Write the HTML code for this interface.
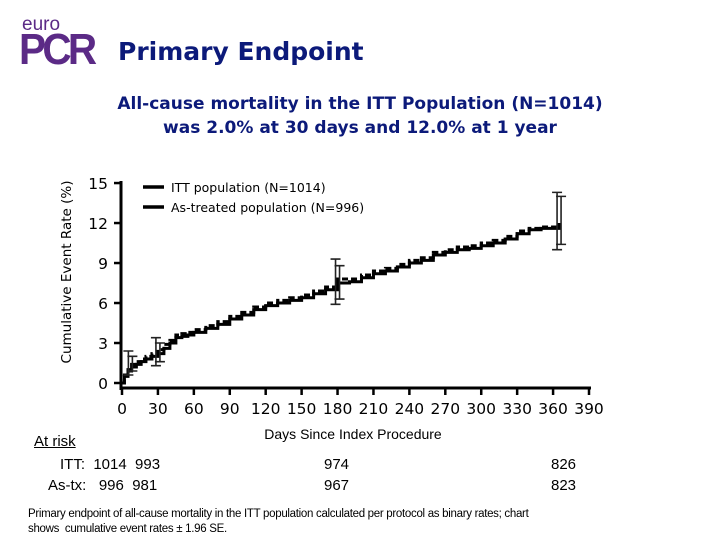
<!DOCTYPE html>
<html><head><meta charset="utf-8">
<style>
body{margin:0;background:#fff;width:720px;height:540px;overflow:hidden;position:relative;font-family:"DejaVu Sans","Liberation Sans",sans-serif;}
.t{position:absolute;white-space:nowrap;}
</style></head>
<body>
<div class="t" style="left:22px;top:14px;font-size:19px;color:#5b2a86;font-family:'Liberation Sans',sans-serif;">euro</div>
<div class="t" style="left:19px;top:25px;font-size:44px;font-weight:bold;color:#5b2a86;letter-spacing:-4px;transform:scaleX(0.92);transform-origin:left;font-family:'Liberation Sans',sans-serif;">PCR</div>
<div class="t" style="left:118px;top:37px;font-size:25px;font-weight:bold;color:#0c1a7a;">Primary Endpoint</div>
<div class="t" style="left:0;width:720px;text-align:center;top:92px;font-size:17px;font-weight:bold;color:#0c1a7a;line-height:24px;">All-cause mortality in the ITT Population (N=1014)<br>was 2.0% at 30 days and 12.0% at 1 year</div>
<svg width="720" height="540" style="position:absolute;left:0;top:0" id="chart"></svg>
<div class="t" style="left:34px;top:433px;font-size:15px;color:#000;text-decoration:underline;font-family:'Liberation Sans',sans-serif;">At risk</div>
<div class="t" style="left:60px;top:456px;font-size:15px;font-family:'Liberation Sans',sans-serif;">ITT:&nbsp; 1014&nbsp; 993</div>
<div class="t" style="left:48px;top:477px;font-size:15px;font-family:'Liberation Sans',sans-serif;">As-tx:&nbsp;&nbsp; 996&nbsp; 981</div>
<div class="t" style="left:324px;top:456px;font-size:15px;font-family:'Liberation Sans',sans-serif;">974</div>
<div class="t" style="left:324px;top:477px;font-size:15px;font-family:'Liberation Sans',sans-serif;">967</div>
<div class="t" style="left:551px;top:456px;font-size:15px;font-family:'Liberation Sans',sans-serif;">826</div>
<div class="t" style="left:551px;top:477px;font-size:15px;font-family:'Liberation Sans',sans-serif;">823</div>
<div class="t" style="left:28px;top:507px;font-size:11.5px;line-height:15px;font-family:'Liberation Sans',sans-serif;letter-spacing:-0.3px;">Primary endpoint of all-cause mortality in the ITT population calculated per protocol as binary rates; chart<br>shows&nbsp; cumulative event rates ± 1.96 SE.</div>
<script>
const xTicks=[0,30,60,90,120,150,180,210,240,270,300,330,360,390];
const yTicks=[0,3,6,9,12,15];
const days=[0,2,5,8,12,16,20,25,30,35,40,45,50,55,60,70,80,90,100,110,120,130,140,150,160,170,180,190,200,210,220,230,240,250,260,270,280,290,300,310,320,330,340,350,365];
const itt=[0,0.5,0.9,1.2,1.4,1.6,1.8,2.0,2.2,2.6,3.0,3.4,3.5,3.6,3.8,4.1,4.4,4.8,5.1,5.5,5.8,6.0,6.2,6.4,6.7,7.0,7.5,7.6,7.9,8.2,8.4,8.7,9.0,9.2,9.6,9.8,10.0,10.1,10.3,10.5,10.8,11.2,11.5,11.6,11.8];
const astx=[0,0.6,1.0,1.4,1.6,1.8,2.0,2.2,2.5,2.9,3.2,3.6,3.7,3.8,4.0,4.3,4.6,5.0,5.3,5.7,6.0,6.2,6.4,6.6,6.9,7.2,7.8,7.8,8.1,8.4,8.6,8.9,9.2,9.4,9.8,10.0,10.2,10.3,10.5,10.7,11.0,11.4,11.6,11.7,12.0];
const ebDays=[7,30,180,365];
const ebLo=[0.6,1.3,5.9,10.0];
const ebHi=[2.4,3.4,9.3,14.3];
const ebLo2=[0.9,1.6,6.3,10.4];
const ebHi2=[2.0,3.0,8.8,14.0];
const sx=d=>122+d*(467/390);
const sy=v=>383-v*13.33;
const svg=document.getElementById('chart');
const NS='http://www.w3.org/2000/svg';
function mk(tag,attrs){const e=document.createElementNS(NS,tag);for(const k in attrs)e.setAttribute(k,attrs[k]);svg.appendChild(e);return e;}
let e=mk('line',{x1:121,y1:181,x2:121,y2:390,stroke:'#000','stroke-width':3});


e=mk('line',{x1:120,y1:388,x2:591,y2:388,stroke:'#000','stroke-width':3});


xTicks.forEach(t=>{
  let l=mk('line',{x1:sx(t),y1:388,x2:sx(t),y2:395,stroke:'#000','stroke-width':2.5});
  
  
  let tx=mk('text',{x:sx(t),y:414,'text-anchor':'middle','font-size':15.5,'font-family':'DejaVu Sans,sans-serif'});
  tx.textContent=t;
  
  
});
yTicks.forEach(t=>{
  let l=mk('line',{x1:114,y1:sy(t),x2:121,y2:sy(t),stroke:'#000','stroke-width':2.5});
  
  
  let tx=mk('text',{x:108,y:sy(t)+6,'text-anchor':'end','font-size':15.5,'font-family':'DejaVu Sans,sans-serif'});
  tx.textContent=t;
  
  
});
let yt=mk('text',{x:0,y:0,'text-anchor':'middle','font-size':13.5,'font-family':'DejaVu Sans,sans-serif',transform:'translate(71,272) rotate(-90)'});
yt.textContent='Cumulative Event Rate (%)';


let xt=mk('text',{x:353,y:439,'text-anchor':'middle','font-size':14,'font-family':'Liberation Sans,sans-serif'});
xt.textContent='Days Since Index Procedure';


function step(arr){let d='M'+sx(days[0])+','+sy(arr[0]);for(let i=1;i<days.length;i++){d+=' H'+sx(days[i])+' V'+sy(arr[i]);}return d;}
let p=mk('path',{d:step(astx),fill:'none',stroke:'#000','stroke-width':3,'stroke-dasharray':'6,3'});


p=mk('path',{d:step(itt),fill:'none',stroke:'#000','stroke-width':3});


ebDays.forEach((d,i)=>{
  [[ebLo[i],ebHi[i],-2],[ebLo2[i],ebHi2[i],2]].forEach(([lo,hi,o])=>{
    const x=sx(d)+o;
    let g=mk('path',{d:`M${x},${sy(lo)}V${sy(hi)}M${x-5},${sy(lo)}H${x+5}M${x-5},${sy(hi)}H${x+5}`,stroke:'#222','stroke-width':1.6,fill:'none'});
    
    
  });
});
[['ITT population (N=1014)',187],['As-treated population (N=996)',207]].forEach(([t,y],i)=>{
  let l=mk('line',{x1:143,y1:y,x2:164,y2:y,stroke:'#000','stroke-width':3.5});
  
  
  let tx=mk('text',{x:171,y:y+5,'font-size':12.5,'font-family':'DejaVu Sans,sans-serif'});
  tx.textContent=t;
  
  
});
</script>
</body></html>
